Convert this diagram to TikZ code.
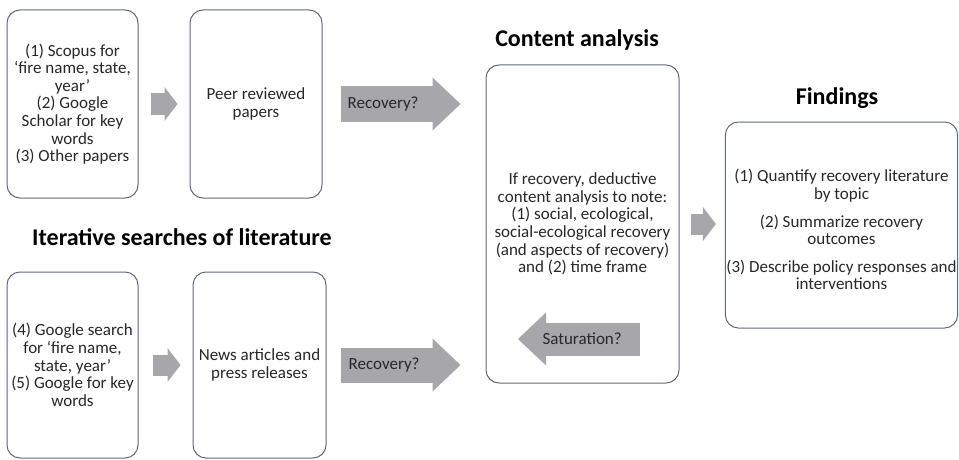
\documentclass[tikz,border=0pt]{standalone}
\usepackage{fontspec}
\setmainfont{Carlito}
\usepackage{tikz}
\usetikzlibrary{arrows.meta,calc,positioning}
\definecolor{boxline}{RGB}{96,106,120}
\definecolor{arrowgray}{RGB}{166,166,171}
\definecolor{txtgray}{RGB}{40,40,40}

\begin{document}
\begin{tikzpicture}[x=1pt,y=-1pt,
stage/.style={draw=boxline,line width=1pt,rounded corners=13pt,fill=white,align=center,inner sep=1pt,text=txtgray,font=\fontsize{17}{17.6}\selectfont},
heading/.style={font=\fontsize{24}{26}\selectfont\bfseries,text=black,inner sep=0pt},
smallarrow/.style={draw=arrowgray,line width=21pt,-{Triangle[length=13pt,width=34pt,line width=0pt]}},
bigarrow/.style={draw=arrowgray,line width=35pt,-{Triangle[length=28pt,width=53pt,line width=0pt]}},
arrowtext/.style={text=txtgray,font=\fontsize{17}{18}\selectfont,inner sep=0pt}]
\useasboundingbox (0,0) rectangle (959,460);
\node[stage,minimum width=131pt,minimum height=188pt] (a1) at (72.5,104) {(1) Scopus for\\‘fire name, state,\\year’\\(2) Google\\Scholar for key\\words\\(3) Other papers};
\node[stage,minimum width=132pt,minimum height=188pt] (a2) at (256,104) {Peer reviewed\\papers};
\node[stage,minimum width=131pt,minimum height=186pt] (b1) at (72.5,365) {(4) Google search\\for ‘fire name,\\state, year’\\(5) Google for key\\words};
\node[stage,minimum width=133pt,minimum height=186pt] (b2) at (259.5,365) {News articles and\\press releases};
\node[stage,minimum width=193pt,minimum height=318pt] (c) at (582.5,224) {If recovery, deductive\\content analysis to note:\\(1) social, ecological,\\social-ecological recovery\\(and aspects of recovery)\\and (2) time frame};
\node[stage,minimum width=231pt,minimum height=206pt] (d) at (841.5,225) {\rule{0pt}{22pt}(1) Quantify recovery literature\\by topic\\[10pt](2) Summarize recovery\\outcomes\\[10pt](3) Describe policy responses and\\interventions};
\node[heading] (t1) at (182,237) {Iterative searches of literature};
\node[heading] (t2) at (577,40) {Content analysis};
\node[heading] (t3) at (837,98) {Findings};
\draw[smallarrow,shorten <=12pt,shorten >=12pt] (a1.east) -- (a2.west);
\draw[smallarrow,shorten <=14pt,shorten >=12pt] (b1.east) -- (b2.west);
\draw[smallarrow,shorten <=11pt,shorten >=9pt] (c.east) -- (c.east -| d.west);
\draw[bigarrow,shorten <=18pt,shorten >=25pt] (a2.east) -- (a2.east -| c.west);
\draw[bigarrow,shorten <=14pt,shorten >=25pt] (b2.east) -- (b2.east -| c.west);
\node[arrowtext,anchor=west] (r1) at ($(a2.east)+(25,0)$) {Recovery?};
\node[arrowtext,anchor=west] (r2) at ($(b2.east)+(22,0)$) {Recovery?};
\coordinate (s1) at (640,339);
\coordinate (s2) at (518,339);
\draw[bigarrow,line width=33pt] (s1) -- (s2);
\node[arrowtext,anchor=east] (sat) at ($(s1)+(-18,0)$) {Saturation?};
\end{tikzpicture}
\end{document}
